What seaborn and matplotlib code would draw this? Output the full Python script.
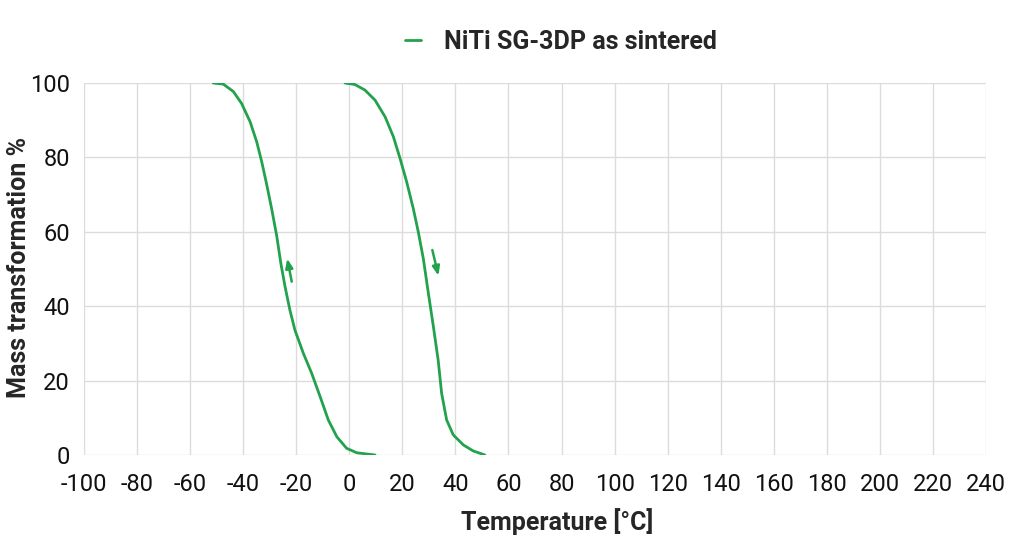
import matplotlib
matplotlib.use("Agg")
import pandas as pd
import seaborn as sns
import matplotlib.pyplot as plt

# cooling branch (arrow up)
cool_temp = [-51.3, -47.5, -43.7, -40.6, -37.4, -34.9, -33.0, -31.1, -29.3, -27.4, -25.8,
             -24.2, -22.4, -20.5, -17.3, -14.2, -11.0, -7.9, -4.7, -1.0, 2.8, 9.7]
cool_mass = [100, 99.7, 97.7, 94.5, 89.6, 84.2, 78.8, 72.6, 66.3, 59.1, 51.5,
             45.2, 39.0, 33.6, 27.3, 22.0, 15.7, 9.4, 4.9, 1.8, 0.6, 0]

# heating branch (arrow down)
heat_temp = [-1.6, 2.1, 5.9, 9.7, 13.5, 16.6, 19.1, 21.6, 24.1, 26.0, 27.9,
             29.8, 31.7, 33.5, 34.8, 36.7, 39.2, 43.0, 46.7, 51.1]
heat_mass = [100, 99.6, 98.1, 95.4, 90.9, 85.6, 79.8, 73.5, 66.3, 60.0, 52.8,
             43.5, 34.5, 25.5, 16.6, 9.4, 5.4, 2.7, 1.1, 0]

# arrow annotations: (tail, head)
arrow_up = [(-21.7, 46.6), (-23.4, 52.8)]
arrow_down = [(31.3, 55.1), (33.6, 48.2)]

x_ticks = list(range(-100, 241, 20))
y_ticks = list(range(0, 101, 20))

green = "#22a24c"

sns.set_theme(style="white")
plt.rcParams["font.family"] = ["Roboto", "DejaVu Sans"]
plt.rcParams["axes.unicode_minus"] = False

fig = plt.figure(figsize=(10.24, 5.5), dpi=100)
ax = fig.add_axes([84 / 1024, 95 / 550, 902 / 1024, 372 / 550])

cool = pd.DataFrame({"temp": cool_temp, "mass": cool_mass})
heat = pd.DataFrame({"temp": heat_temp, "mass": heat_mass})
sns.lineplot(data=cool, x="temp", y="mass", sort=False, color=green, lw=2, ax=ax,
             label="NiTi SG-3DP as sintered")
sns.lineplot(data=heat, x="temp", y="mass", sort=False, color=green, lw=2, ax=ax)
for ln in ax.lines:
    ln.set_solid_joinstyle("round")

for tail, head in (arrow_up, arrow_down):
    ax.annotate("", xy=head, xytext=tail,
                arrowprops=dict(arrowstyle="-|>,head_length=0.45,head_width=0.18",
                                color=green, lw=1.8, shrinkA=0, shrinkB=0))

ax.set_xlim(-100, 240)
ax.set_ylim(0, 100)
ax.set_xticks(x_ticks)
ax.set_yticks(y_ticks)
ax.grid(True, color="#dcdcdc", lw=1)
for s in ax.spines.values():
    s.set_visible(False)
ax.tick_params(axis="both", length=0, labelsize=17, colors="#111111")
ax.tick_params(axis="x", pad=13)
ax.tick_params(axis="y", pad=10)

ax.set_xlabel("Temperature [°C]", fontsize=18, fontweight="bold")
ax.xaxis.set_label_coords((557 - 84) / 902, -(522 - 455) / 372)
ax.xaxis.label.set_va("center")
ax.set_ylabel("Mass transformation %", fontsize=18, fontweight="bold")
ax.yaxis.set_label_coords((19 - 84) / 902, (455 - 267) / 372)
ax.yaxis.label.set_va("center")

handles, labels = ax.get_legend_handles_labels()
ax.get_legend().remove()
fig.legend(handles, labels, loc="center", bbox_to_anchor=(561 / 1024, 1 - 42 / 550),
           frameon=False, prop={"size": 18, "weight": "bold"}, handlelength=0.65,
           handletextpad=0.9)

plt.savefig("out.png", dpi=100)
